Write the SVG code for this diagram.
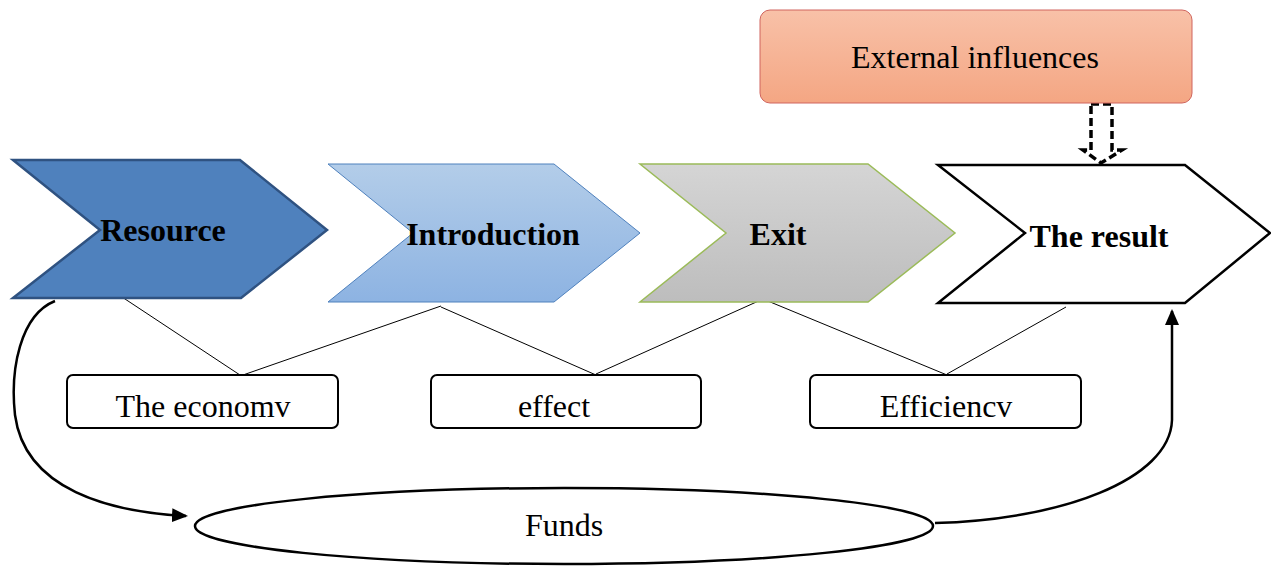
<svg xmlns="http://www.w3.org/2000/svg" width="1271" height="566" viewBox="0 0 1271 566">
<style>
.bold{font-family:'Liberation Serif','DejaVu Serif',serif;font-weight:bold;font-size:32px;fill:#000}
.reg{font-family:'Liberation Serif','DejaVu Serif',serif;font-size:32px;fill:#000}
.box{fill:#fff;stroke:#000;stroke-width:2}
.thin{stroke:#000;stroke-width:1;fill:none}
.curve{stroke:#000;stroke-width:2.5;fill:none}
</style>
<defs>
<linearGradient id="gBlue" x1="0" y1="0" x2="0" y2="1"><stop offset="0" stop-color="#b3cde9"/><stop offset="1" stop-color="#8db3e2"/></linearGradient>
<linearGradient id="gGray" x1="0" y1="0" x2="0" y2="1"><stop offset="0" stop-color="#d5d5d5"/><stop offset="1" stop-color="#bdbdbd"/></linearGradient>
<linearGradient id="gOrange" x1="0" y1="0" x2="0" y2="1"><stop offset="0" stop-color="#f8c1a8"/><stop offset="1" stop-color="#f4a683"/></linearGradient>
<marker id="arrBig" markerWidth="16" markerHeight="14" refX="14" refY="7" orient="auto" markerUnits="userSpaceOnUse" viewBox="0 0 16 14"><path d="M0,0 L16,7 L0,14 Z" fill="#000"/></marker>
</defs>

<g id="connectors">
<line class="thin" x1="122" y1="297" x2="243" y2="377"/>
<line class="thin" x1="441" y1="306" x2="243" y2="375"/>
<line class="thin" x1="441" y1="307" x2="596" y2="375"/>
<line class="thin" x1="763" y1="299" x2="596" y2="374"/>
<line class="thin" x1="763" y1="299" x2="947" y2="375"/>
<line class="thin" x1="1066" y1="307" x2="947" y2="374"/>
<path class="curve" d="M55,301 C20,315 10,370 15,415 C25,490 110,512 186,516" marker-end="url(#arrBig)"/>
<path class="curve" d="M935,523 C1060,520 1170,480 1172,420 L1172,311" marker-end="url(#arrBig)"/>
<path d="M1091,104 L1112,104 L1112,150 L1122,150 L1101,163 L1083,150 L1091,150 Z" fill="#fff" stroke="#000" stroke-width="3.5" stroke-dasharray="8,4"/>
</g>

<g id="external">
<rect x="760" y="10" width="432" height="93" rx="10" fill="url(#gOrange)" stroke="#d0655e" stroke-width="1"/>
<text class="reg" x="975" y="68" text-anchor="middle">External influences</text>
</g>

<g id="resource">
<polygon points="13,160 240,160 327,230 241,298 13,298 100,230" fill="#4f81bd" stroke="#2f5281" stroke-width="2.5"/>
<text class="bold" x="163" y="241" text-anchor="middle">Resource</text>
</g>

<g id="introduction">
<polygon points="328,164 554,164 640,233 554,302 328,302 413,233" fill="url(#gBlue)" stroke="#4f81bd" stroke-width="1"/>
<text class="bold" x="493" y="245" text-anchor="middle">Introduction</text>
</g>

<g id="exit">
<polygon points="640,164 868,164 955,233 868,302 640,302 726,233" fill="url(#gGray)" stroke="#9bbb59" stroke-width="1.5"/>
<text class="bold" x="778" y="245" text-anchor="middle">Exit</text>
</g>

<g id="result">
<polygon points="938,165 1185,165 1270,233 1185,303 938,303 1025,233" fill="#fff" stroke="#000" stroke-width="2.5"/>
<text class="bold" x="1099" y="247" text-anchor="middle">The result</text>
</g>

<g id="economy">
<rect class="box" x="67" y="375" width="271" height="53" rx="6"/>
<text class="reg" x="203" y="417" text-anchor="middle">The economv</text>
</g>

<g id="effect">
<rect class="box" x="431" y="375" width="270" height="53" rx="6"/>
<text class="reg" x="554" y="417" text-anchor="middle">effect</text>
</g>

<g id="efficiency">
<rect class="box" x="810" y="375" width="271" height="53" rx="6"/>
<text class="reg" x="946" y="417" text-anchor="middle">Efficiencv</text>
</g>

<g id="funds">
<ellipse cx="564" cy="526" rx="369" ry="38" fill="#fff" stroke="#000" stroke-width="2.5"/>
<text class="reg" x="564" y="536" text-anchor="middle">Funds</text>
</g>
</svg>
